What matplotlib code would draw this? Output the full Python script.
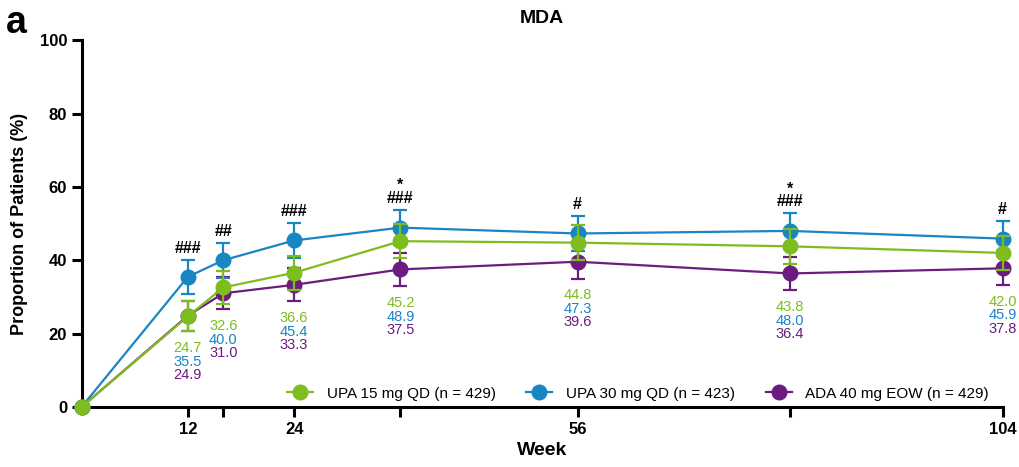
import matplotlib
matplotlib.use("Agg")
import matplotlib.pyplot as plt
from matplotlib.lines import Line2D

plt.rcParams["font.family"] = ["Liberation Sans", "DejaVu Sans"]

# weeks and MDA response (%) with 95% CI half-widths
WEEKS = [0, 12, 16, 24, 36, 56, 80, 104]
UPA15 = [0, 24.7, 32.6, 36.6, 45.2, 44.8, 43.8, 42.0]
UPA30 = [0, 35.5, 40.0, 45.4, 48.9, 47.3, 48.0, 45.9]
ADA = [0, 24.9, 31.0, 33.3, 37.5, 39.6, 36.4, 37.8]
UPA15_ERR = [0, 4.1, 4.4, 4.6, 4.7, 4.7, 4.7, 4.7]
UPA30_ERR = [0, 4.6, 4.7, 4.7, 4.8, 4.8, 4.8, 4.8]
ADA_ERR = [0, 4.1, 4.4, 4.5, 4.6, 4.6, 4.6, 4.6]
SIG = ["", "###", "##", "###", "*\n###", "#", "*\n###", "#"]

LABELS = ["UPA 15 mg QD (n = 429)", "UPA 30 mg QD (n = 423)", "ADA 40 mg EOW (n = 429)"]
GREEN, BLUE, PURPLE = "#7DBE1E", "#1985C3", "#6B1C7E"

fig = plt.figure(figsize=(10.2, 4.67), dpi=100)
ax = fig.add_axes([0.080, 0.1285, 0.903, 0.7855])

series = [(ADA, ADA_ERR, PURPLE), (UPA30, UPA30_ERR, BLUE), (UPA15, UPA15_ERR, GREEN)]
for z, (vals, err, col) in enumerate(series):
    h = ax.errorbar(WEEKS, vals, yerr=err, color=col, marker="o", markersize=10.5,
                    lw=1.6, elinewidth=1.6, capsize=5, capthick=1.6,
                    clip_on=False, zorder=3 + z)
    for art in h.get_children():
        art.set_clip_on(False)

# significance marks above the blue upper CI
for w, v, e, s in zip(WEEKS, UPA30, UPA30_ERR, SIG):
    if s:
        ax.annotate(s, (w, v + e), xytext=(0, 3), textcoords="offset points",
                    ha="center", va="bottom", fontsize=11.5, fontweight="bold",
                    linespacing=0.8)

# value labels below each cluster
for i, w in enumerate(WEEKS):
    if w == 0:
        continue
    low = min(UPA15[i] - UPA15_ERR[i], UPA30[i] - UPA30_ERR[i], ADA[i] - ADA_ERR[i])
    for k, (vals, col) in enumerate([(UPA15, GREEN), (UPA30, BLUE), (ADA, PURPLE)]):
        ax.annotate(f"{vals[i]:.1f}", (w, low), xytext=(0, -12 - 9.8 * k),
                    textcoords="offset points", ha="center", va="center",
                    fontsize=10.5, color=col)

ax.set_xlim(0, 104)
ax.set_ylim(0, 100)
ax.set_yticks(range(0, 101, 20))
ax.set_xticks([12, 16, 24, 36, 56, 80, 104])
ax.set_xticklabels(["12", "", "24", "", "56", "", "104"])
for sp in ["top", "right"]:
    ax.spines[sp].set_visible(False)
for sp in ["left", "bottom"]:
    ax.spines[sp].set_linewidth(2.2)
ax.tick_params(width=2.2, length=7, labelsize=12)
for t in ax.get_xticklabels() + ax.get_yticklabels():
    t.set_fontweight("bold")

ax.set_xlabel("Week", fontsize=14, fontweight="bold", labelpad=4)
ax.set_ylabel("Proportion of Patients (%)", fontsize=13, fontweight="bold", labelpad=8)
ax.set_title("MDA", fontsize=14, fontweight="bold", pad=12)
fig.text(0.006, 0.93, "a", fontsize=27, fontweight="bold")

handles = [Line2D([0], [0], color=c, marker="o", markersize=10.5, lw=1.6)
           for c in (GREEN, BLUE, PURPLE)]
ax.legend(handles, LABELS, loc="lower right", ncol=3,
          frameon=False, fontsize=11, bbox_to_anchor=(1.0, -0.02),
          handlelength=1.7, handletextpad=0.9, columnspacing=2.0)

fig.savefig("out.png", dpi=100)
